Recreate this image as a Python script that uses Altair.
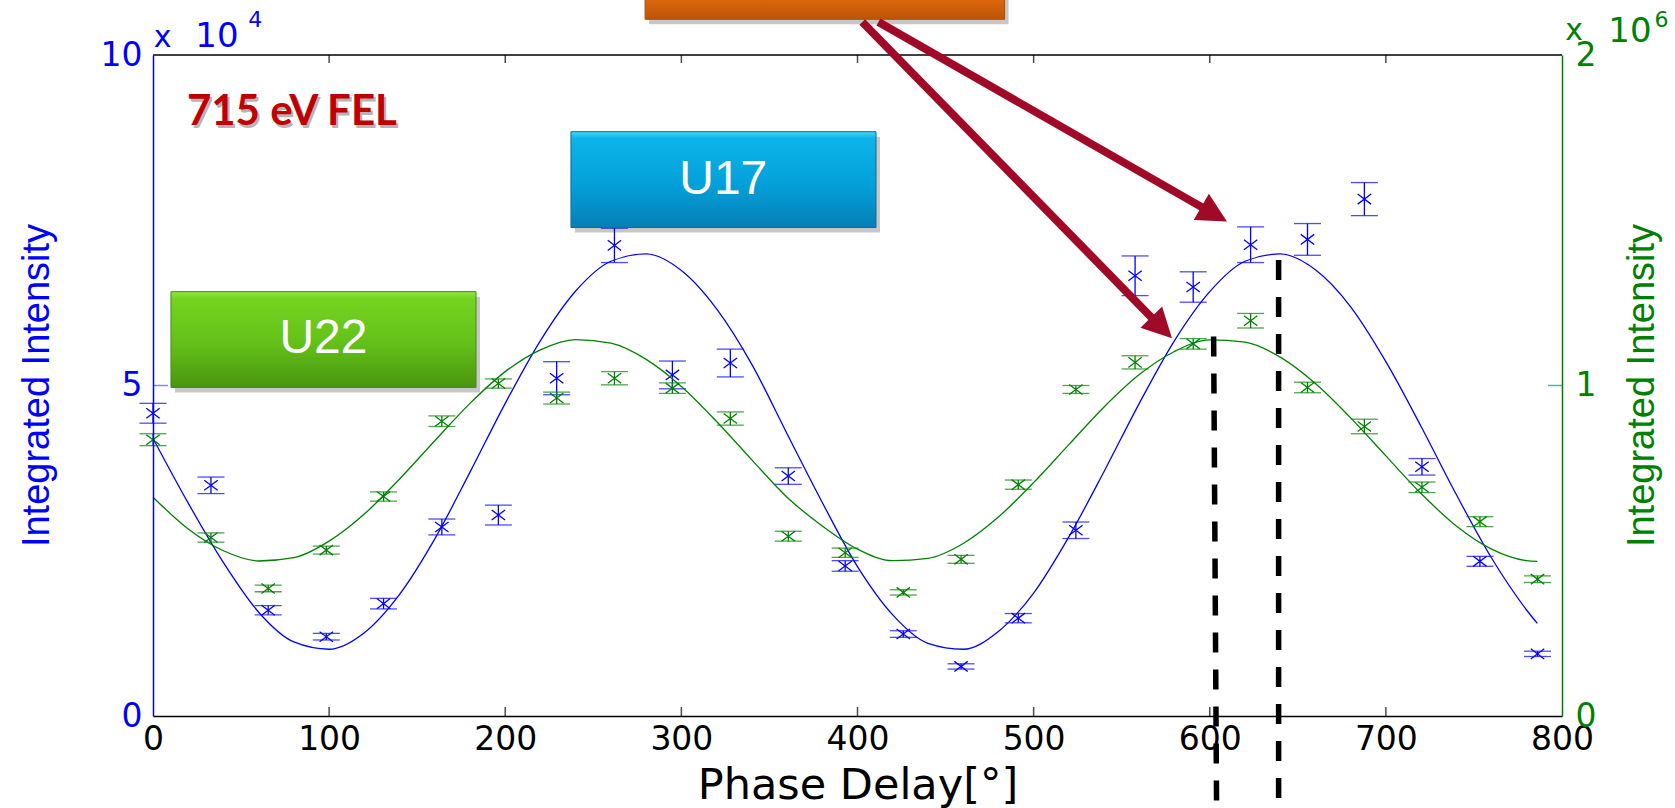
import altair as alt
import pandas as pd

# ---------------- data ----------------
phase = [0.0, 32.9, 65.4, 98.4, 130.9, 164.0, 196.1, 229.2, 262.0, 294.9, 327.8, 360.7,
         393.0, 426.0, 458.8, 491.3, 524.0, 557.6, 590.6, 623.2, 655.5, 687.8, 720.5, 753.4, 786.1]

# U17 (left axis, x 10^4)
u17_int = [4.58, 3.49, 1.60, 1.20, 1.70, 2.86, 3.04, 5.11, 7.12, 5.16, 5.34, 3.63,
           2.27, 1.24, 0.75, 1.48, 2.81, 6.66, 6.49, 7.13, 7.21, 7.82, 3.77, 2.34, 0.94]
u17_err = [0.15, 0.125, 0.07, 0.05, 0.08, 0.12, 0.15, 0.25, 0.26, 0.21, 0.21, 0.125,
           0.08, 0.05, 0.04, 0.07, 0.125, 0.30, 0.23, 0.27, 0.24, 0.25, 0.125, 0.075, 0.04]

# U22 (right axis, x 10^6)
u22_int = [0.836, 0.540, 0.386, 0.502, 0.664, 0.892, 1.006, 0.962, 1.022, 0.992, 0.900, 0.544,
           0.494, 0.374, 0.474, 0.700, 0.988, 1.070, 1.126, 1.196, 0.994, 0.876, 0.692, 0.588, 0.414]
u22_err = [0.018, 0.014, 0.010, 0.012, 0.014, 0.016, 0.014, 0.018, 0.020, 0.016, 0.020, 0.015,
           0.014, 0.008, 0.012, 0.014, 0.012, 0.020, 0.016, 0.022, 0.016, 0.022, 0.016, 0.015, 0.010]

# fitted curves
fit_phase = [0, 20, 40, 60, 80, 100, 120, 140, 160, 180, 200, 220, 240, 260, 280, 300, 320, 340,
             360, 380, 400, 420, 440, 460, 480, 500, 520, 540, 560, 580, 600, 620, 640, 660, 680,
             700, 720, 740, 760, 780, 786]
u17_fit = [4.20, 3.22, 2.32, 1.57, 1.12, 1.01, 1.26, 1.84, 2.68, 3.69, 4.73, 5.68, 6.43, 6.88,
           6.99, 6.74, 6.16, 5.32, 4.27, 3.23, 2.26, 1.53, 1.10, 1.01, 1.28, 1.86, 2.71, 3.70,
           4.73, 5.68, 6.42, 6.88, 6.99, 6.75, 6.19, 5.36, 4.38, 3.35, 2.39, 1.60, 1.40]
u22_fit = [0.662, 0.566, 0.500, 0.469, 0.479, 0.529, 0.611, 0.717, 0.833, 0.946, 1.042, 1.108,
           1.139, 1.128, 1.079, 0.997, 0.891, 0.775, 0.662, 0.575, 0.505, 0.470, 0.477, 0.522,
           0.602, 0.706, 0.821, 0.935, 1.033, 1.103, 1.138, 1.131, 1.086, 1.006, 0.902, 0.787,
           0.673, 0.575, 0.505, 0.470, 0.468]

x_ticks = [0, 100, 200, 300, 400, 500, 600, 700, 800]
left_ticks = [0, 5, 10]
right_ticks = [0, 1, 2]

# ---------------- annotations (in phase / left-axis units) ----------------
boxes_u22 = pd.DataFrame({"x0": [10.2], "x1": [183.4], "y0": [4.97], "y1": [6.42]})
boxes_u17 = pd.DataFrame({"x0": [237.3], "x1": [410.5], "y0": [7.39], "y1": [8.84]})
boxes_org = pd.DataFrame({"x0": [279.4], "x1": [483.5], "y0": [10.54], "y1": [11.3]})
box_labels = pd.DataFrame({"x": [96.8, 323.8], "y": [5.70, 8.11], "t": ["U22", "U17"]})
arrows = pd.DataFrame({"x0": [402.7, 411.9], "y0": [10.50, 10.50],
                       "x1": [572.2, 601.9], "y1": [5.886, 7.60], "ang": [135.6, 119.8]})
dashes = pd.DataFrame({"x0": [602.2, 639.1], "x1": [603.9, 639.1],
                       "y0": [5.74, 6.90], "y1": [-1.5, -1.5]})
exp_text = pd.DataFrame({
    "t": ["x", "10", "4", "x", "10", "6"],
    "x": [0.45, 24.0, 54.1, 801.9, 826.3, 852.5],
    "y": [10.12, 10.12, 10.42, 10.23, 10.20, 10.42],
    "fs": [30, 34, 22, 30, 34, 22],
    "c": ["#0000ff", "#0000ff", "#0000ff", "#008000", "#008000", "#008000"]})
fel = pd.DataFrame({"x": [19.25], "y": [8.94], "t": ["715 eV FEL"]})

BLUE = "#0000ff"
GREEN = "#008000"
W, H = 1409, 661

# ---------------- tables ----------------
b_pts = pd.DataFrame({"phase": phase, "v": u17_int,
                      "lo": [v - e for v, e in zip(u17_int, u17_err)],
                      "hi": [v + e for v, e in zip(u17_int, u17_err)]})
g_pts = pd.DataFrame({"phase": phase, "v": u22_int,
                      "lo": [v - e for v, e in zip(u22_int, u22_err)],
                      "hi": [v + e for v, e in zip(u22_int, u22_err)]})
b_fit = pd.DataFrame({"phase": fit_phase, "v": u17_fit})
g_fit = pd.DataFrame({"phase": fit_phase, "v": u22_fit})
inner_ticks = pd.DataFrame({"t": x_ticks[1:-1], "b": [0] * 7, "top": [10] * 7})
frame = pd.DataFrame({"x0": [0], "x1": [800], "y": [10]})
side_ticks = pd.DataFrame({"x": [0], "y": [5]})
side_ticks_r = pd.DataFrame({"x": [800], "y": [5]})

X_SCALE = alt.Scale(domain=[0, 800], nice=False, zero=False)
X_AXIS = alt.Axis(values=x_ticks, format=".0f", title="Phase Delay[°]",
                  titleFont="DejaVu Sans", titleFontSize=43, titleFontWeight="normal",
                  titleColor="black", titleY=82, titleBaseline="alphabetic",
                  labelFont="DejaVu Sans", labelFontSize=33, labelColor="black",
                  labelPadding=7, labelFlush=False, labelOverlap=False,
                  ticks=False, tickSize=0, grid=False, zindex=1,
                  domainColor="black", domainWidth=1.5)
L_AXIS = alt.Axis(values=left_ticks, format=".0f", orient="left",
                  title="Integrated Intensity", titleFont="Liberation Sans",
                  titleFontSize=38, titleFontWeight="normal", titleColor=BLUE,
                  titleAngle=270, titleX=-116, titleY=330, titleAlign="center",
                  titleBaseline="middle",
                  labelFont="DejaVu Sans", labelFontSize=33, labelColor=BLUE,
                  labelPadding=11, labelFlush=False, labelOverlap=False,
                  ticks=False, tickSize=0, grid=False, zindex=1,
                  domainColor=BLUE, domainWidth=1.5)
R_AXIS = alt.Axis(values=right_ticks, format=".0f", orient="right",
                  title="Integrated Intensity", titleFont="Liberation Sans",
                  titleFontSize=38, titleFontWeight="normal", titleColor=GREEN,
                  titleAngle=270, titleX=80, titleY=330, titleAlign="center",
                  titleBaseline="middle",
                  labelFont="DejaVu Sans", labelFontSize=33, labelColor=GREEN,
                  labelPadding=13, labelFlush=False, labelOverlap=False,
                  ticks=False, tickSize=0, grid=False, zindex=1,
                  domainColor=GREEN, domainWidth=1.5)


def X(f):
    return alt.X(f, type="quantitative", scale=X_SCALE, axis=X_AXIS)


def YB(f):
    return alt.Y(f, type="quantitative", scale=alt.Scale(domain=[0, 10], nice=False, zero=False), axis=L_AXIS)


def YG(f):
    return alt.Y(f, type="quantitative", scale=alt.Scale(domain=[0, 2], nice=False, zero=False), axis=R_AXIS)


def YA(f):
    return alt.Y(f, type="quantitative", scale=alt.Scale(domain=[0, 10], nice=False, zero=False), axis=None)


XSHAPE = "M-1,-0.75L1,0.75M-1,0.75L1,-0.75"


def series(pts, fit, Y, col):
    line = alt.Chart(fit).mark_line(color=col, strokeWidth=1.3, interpolate="monotone").encode(
        x=X("phase"), y=Y("v"))
    bars = alt.Chart(pts).mark_rule(color=col, strokeWidth=1.3).encode(
        x=X("phase"), y=Y("lo"), y2="hi")
    cap_lo = alt.Chart(pts).mark_tick(orient="horizontal", size=27, thickness=1.3, color=col).encode(
        x=X("phase"), y=Y("lo"))
    cap_hi = alt.Chart(pts).mark_tick(orient="horizontal", size=27, thickness=1.3, color=col).encode(
        x=X("phase"), y=Y("hi"))
    marks = alt.Chart(pts).mark_point(shape=XSHAPE, size=180, filled=False, strokeWidth=1.3,
                                      color=col, opacity=1).encode(x=X("phase"), y=Y("v"))
    return alt.layer(line, bars, cap_lo, cap_hi, marks)


blue_group = series(b_pts, b_fit, YB, BLUE)
green_group = series(g_pts, g_fit, YG, GREEN)


def grad(stops):
    return alt.Gradient(gradient="linear", x1=0, x2=0, y1=0, y2=1,
                        stops=[alt.GradientStop(color=c, offset=o) for o, c in stops])


def box(df, stops, edge):
    shadow = alt.Chart(df).mark_rect(color="#000000", opacity=0.22, xOffset=4, x2Offset=4,
                                     yOffset=5, y2Offset=5, clip=False).encode(
        x=X("x0"), x2="x1", y=YA("y0"), y2="y1")
    body = alt.Chart(df).mark_rect(color=grad(stops), stroke=edge, strokeWidth=1, clip=False).encode(
        x=X("x0"), x2="x1", y=YA("y0"), y2="y1")
    return [shadow, body]


ann = []
# frame top & inward ticks
ann.append(alt.Chart(frame).mark_rule(color="black", strokeWidth=1.5).encode(
    x=X("x0"), x2="x1", y=YA("y")))
ann.append(alt.Chart(inner_ticks).mark_tick(orient="vertical", size=9, thickness=1.5,
                                            color="black", yOffset=-4.5).encode(x=X("t"), y=YA("b")))
ann.append(alt.Chart(inner_ticks).mark_tick(orient="vertical", size=8, thickness=1.5,
                                            color="black", yOffset=4).encode(x=X("t"), y=YA("top")))
ann.append(alt.Chart(side_ticks).mark_tick(orient="horizontal", size=15, thickness=1.5,
                                           color="#5050ff", xOffset=7.5).encode(x=X("x"), y=YA("y")))
ann.append(alt.Chart(side_ticks_r).mark_tick(orient="horizontal", size=14, thickness=1.5,
                                             color="#2e7d7d", xOffset=-7).encode(x=X("x"), y=YA("y")))
# boxes
ann += box(boxes_u22, [(0, "#93e447"), (0.07, "#74d420"), (0.55, "#62c018"), (1, "#4a9410")], "#4a8a14")
ann += box(boxes_u17, [(0, "#45d6f8"), (0.07, "#0db3ea"), (0.55, "#04a0d9"), (1, "#0580b5")], "#0a6f9a")
ann += box(boxes_org, [(0, "#f2821c"), (0.55, "#e2680c"), (1, "#bb540a")], "#a8500c")
ann.append(alt.Chart(box_labels).mark_text(font="Liberation Sans", fontSize=48, color="white",
                                           align="center", baseline="middle").encode(
    x=X("x"), y=YA("y"), text="t:N"))
# FEL label with shadow
ann.append(alt.Chart(fel).mark_text(font="Lato", fontSize=42, fontWeight="bold", color="#7a7a7a",
                                    opacity=0.55, align="left", baseline="alphabetic",
                                    dx=2, dy=3).encode(x=X("x"), y=YA("y"), text="t:N"))
ann.append(alt.Chart(fel).mark_text(font="Lato", fontSize=42, fontWeight="bold", color="#c00000",
                                    align="left", baseline="alphabetic").encode(
    x=X("x"), y=YA("y"), text="t:N"))
# dashed lines
ann.append(alt.Chart(dashes).mark_rule(color="black", strokeWidth=5.5, strokeDash=[20, 17],
                                       strokeCap="butt", clip=False).encode(
    x=X("x0"), x2="x1", y=YA("y0"), y2="y1"))
# arrows
ann.append(alt.Chart(arrows).mark_rule(color="#a10a26", strokeWidth=8, strokeCap="butt", clip=False).encode(
    x=X("x0"), x2="x1", y=YA("y0"), y2="y1"))
ann.append(alt.Chart(arrows).mark_point(shape="M0,-1L0.95,0.85L-0.95,0.85Z", size=1024, filled=True,
                                        color="#a10a26", opacity=1, clip=False).encode(
    x=X("x1"), y=YA("y1"), angle=alt.Angle("ang:Q", scale=None)))
# exponent labels
ann.append(alt.Chart(exp_text).mark_text(font="DejaVu Sans", align="left", baseline="alphabetic",
                                         clip=False).encode(
    x=X("x"), y=YA("y"), text="t:N",
    size=alt.Size("fs:Q", scale=None), color=alt.Color("c:N", scale=None)))

ann_group = alt.layer(*ann)

chart = alt.layer(blue_group, green_group, ann_group).resolve_scale(y="independent").properties(
    width=W, height=H,
    autosize=alt.AutoSizeParams(type="none"),
    padding={"left": 153, "top": 55, "right": 113, "bottom": 92},
    background="white",
).configure_view(stroke=None)

chart.save("out.html", embed_options={"renderer": "svg", "actions": False})
